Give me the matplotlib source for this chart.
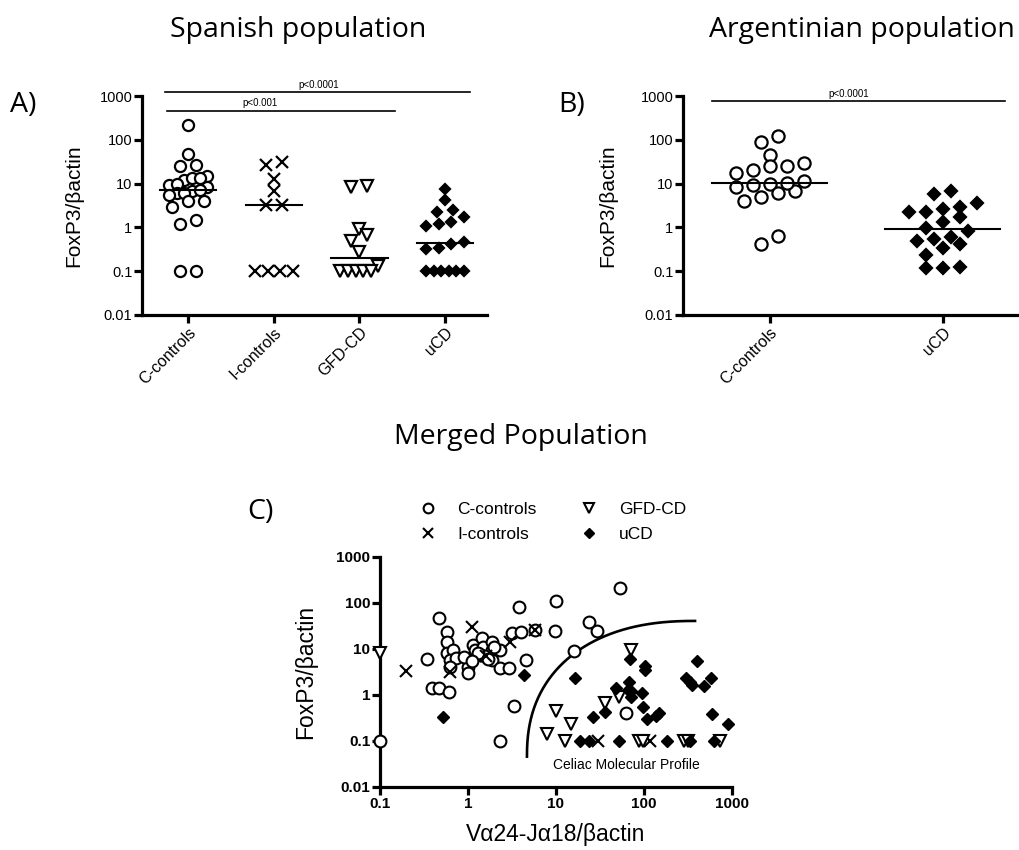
import numpy as np
import matplotlib
matplotlib.use('Agg')
import matplotlib.pyplot as plt
from matplotlib.ticker import FixedLocator, FuncFormatter, NullLocator
from matplotlib.lines import Line2D

plt.rcParams['font.family'] = ['Liberation Sans', 'DejaVu Sans']

# ---------------- data ----------------
groups_a = ['C-controls', 'I-controls', 'GFD-CD', 'uCD']
spain_c = [220, 47, 25, 26, 15, 12, 13.5, 13.5, 9.5, 8.3, 10, 6.1, 6.8, 6.1,
           5.5, 4.1, 4.0, 3.0, 1.5, 1.2, 0.1, 0.1, 7.2]
spain_i = [31, 27, 13, 6.9, 3.2, 3.2, 0.1, 0.1, 0.1, 0.1]
spain_gfd = [8.8, 8.5, 0.93, 0.68, 0.48, 0.27, 0.13, 0.1, 0.1, 0.1, 0.1, 0.1]
spain_ucd = [7.6, 4.3, 2.2, 2.5, 1.7, 1.3, 1.1, 1.2, 0.46, 0.42, 0.33, 0.32,
             0.1, 0.1, 0.1, 0.1, 0.1, 0.1]

groups_b = ['C-controls', 'uCD']
arg_c = [9.5, 44, 20.5, 6.9, 25, 11.4, 5, 91, 25, 10, 4, 0.42, 120, 30, 10.2,
         6.1, 0.62, 17.6, 8.3]
arg_ucd = [5.9, 6.7, 3.0, 3.6, 2.3, 2.2, 2.6, 1.7, 1.3, 0.84, 0.96, 0.54, 0.41,
           0.5, 0.59, 0.33, 0.24, 0.126, 0.116, 0.116]

# merged: (Va24-Ja18/bactin, FoxP3/bactin)
merged_c_x = [0.1, 0.47, 0.58, 0.57, 0.57, 0.68, 0.34, 0.62, 0.73, 0.62, 1.0, 1.0,
              0.89, 1.15, 1.2, 1.43, 1.5, 1.85, 1.85, 1.85, 1.4, 1.55, 1.3, 2.3,
              2.3, 2.9, 3.2, 3.8, 4.0, 4.6, 3.3, 2.3, 0.39, 0.47, 0.61, 5.8, 10,
              9.8, 53, 23.5, 29, 16, 63, 1.7, 2.0, 1.1]
merged_c_y = [0.1, 47, 24, 14.4, 8, 9.5, 6, 5.8, 6.3, 4, 4, 2.96, 6.8, 12, 9.5,
              17, 11.2, 14.4, 9.5, 5.8, 7.5, 7, 8, 9.5, 3.8, 3.8, 22, 81, 23,
              5.8, 0.58, 0.1, 1.44, 1.44, 1.18, 26, 112, 25, 209, 39, 25, 9.2,
              0.4, 6, 11, 5.5]
merged_i_x = [0.2, 1.1, 0.62, 5.8, 3.0, 30, 117, 1.6]
merged_i_y = [3.4, 30, 3.2, 26, 14, 0.1, 0.1, 7]
merged_gfd_x = [0.1, 7.8, 10, 15, 12.6, 72, 52, 36, 87, 98, 282, 318, 730]
merged_gfd_y = [8.3, 0.14, 0.45, 0.24, 0.1, 9.5, 0.92, 0.66, 0.1, 0.1, 0.1, 0.1, 0.1]
merged_ucd_x = [0.52, 4.3, 16.4, 18.7, 23.7, 26, 36, 52, 48, 69, 68, 65, 72, 72,
                94, 103, 103, 98, 107, 138, 149, 182, 330, 405, 302, 333, 347,
                575, 480, 590, 890, 617]
merged_ucd_y = [0.34, 2.7, 2.3, 0.1, 0.1, 0.34, 0.43, 0.1, 1.4, 6, 1.9, 1.3, 1.2,
                0.92, 1.09, 4.3, 3.5, 0.56, 0.3, 0.35, 0.4, 0.1, 0.1, 5.5, 2.3,
                1.95, 1.65, 2.4, 1.57, 0.39, 0.23, 0.1]

# ---------------- figure ----------------
W, H = 1020, 850
fig = plt.figure(figsize=(W / 100, H / 100), dpi=100)

def fbox(left, top, right, bottom):
    return [left / W, 1 - bottom / H, (right - left) / W, (bottom - top) / H]

ax_a = fig.add_axes(fbox(142, 96, 487, 315))
ax_b = fig.add_axes(fbox(683, 96, 1017, 315))
ax_c = fig.add_axes(fbox(380, 557, 732, 787))

decades = [0.01, 0.1, 1, 10, 100, 1000]
fmt = FuncFormatter(lambda v, p: '%g' % v)

def style(ax):
    for s in ['top', 'right']:
        ax.spines[s].set_visible(False)
    for s in ['left', 'bottom']:
        ax.spines[s].set_linewidth(2.3)
    ax.set_yscale('log')
    ax.set_ylim(0.01, 1000)
    ax.yaxis.set_major_locator(FixedLocator(decades))
    ax.yaxis.set_minor_locator(NullLocator())
    ax.yaxis.set_major_formatter(fmt)
    ax.tick_params(axis='both', which='major', direction='out', length=6,
                   width=2.3, labelsize=10.5, pad=1)

def swarm(ax, values, step, gap, maxhalf):
    # GraphPad-like column scatter: points close in y share a row
    vals = np.asarray(values, float)
    ys = ax.transData.transform(np.column_stack([np.zeros(len(vals)), vals]))[:, 1]
    px_per_unit = ax.transData.transform((1, 1))[0] - ax.transData.transform((0, 1))[0]
    rows = []
    for i in np.argsort(vals, kind='stable'):
        if rows and ys[i] - ys[rows[-1][0]] < gap:
            rows[-1].append(i)
        else:
            rows.append([i])
    offs = np.zeros(len(vals))
    for row in rows:
        n = len(row)
        if n == 1:
            continue
        sp = min(step, 2 * maxhalf / (n - 1))
        for j, i in enumerate(row):
            offs[i] = (j - (n - 1) / 2) * sp
    return offs / px_per_unit

marker_kw = {
    'C-controls': dict(marker='o', mfc='white', mec='black'),
    'I-controls': dict(marker='x', color='black'),
    'GFD-CD': dict(marker='v', mfc='white', mec='black'),
    'uCD': dict(marker='D', mfc='black', mec='black'),
}
msize = {'C-controls': 8, 'I-controls': 8, 'GFD-CD': 8, 'uCD': 5.5}

def column_plot(ax, groups, series, xlim, step, gap, maxhalf, ms_scale=1.0):
    ax.set_xlim(*xlim)
    style(ax)
    for i, (name, vals) in enumerate(zip(groups, series)):
        offs = swarm(ax, vals, step, gap, maxhalf)
        ax.plot(i + offs, vals, ls='none', ms=msize[name] * ms_scale, mew=1.6,
                clip_on=False, zorder=3, **marker_kw[name])
        med = np.median(vals)
        ax.plot([i - 0.33, i + 0.33], [med, med], color='black', lw=1.5, zorder=4)
    ax.set_xticks(range(len(groups)))
    ax.set_xticklabels(groups, rotation=45, ha='right', va='top',
                       rotation_mode='anchor', fontsize=11.5)
    ax.set_ylabel('FoxP3/\u03b2actin', fontsize=15)

# ---- panel A
column_plot(ax_a, groups_a, [spain_c, spain_i, spain_gfd, spain_ucd],
            (-0.54, 3.49), step=16, gap=9, maxhalf=19)
ax_a.plot([-0.27, 3.29], [1260, 1260], color='black', lw=1.2, clip_on=False)
ax_a.plot([-0.25, 2.42], [465, 465], color='black', lw=1.2, clip_on=False)
ax_a.text(1.53, 1400, 'p<0.0001', fontsize=7, ha='center', va='bottom')
ax_a.text(0.84, 520, 'p<0.001', fontsize=7, ha='center', va='bottom')
ax_a.yaxis.set_label_coords(-0.171, 0.5)

# ---- panel B
column_plot(ax_b, groups_b, [arg_c, arg_ucd], (-0.5, 1.43), step=17, gap=12,
            maxhalf=52, ms_scale=1.1)
ax_b.plot([-0.33, 1.36], [760, 760], color='black', lw=1.2, clip_on=False)
ax_b.text(0.46, 860, 'p<0.0001', fontsize=7, ha='center', va='bottom')
ax_b.yaxis.set_label_coords(-0.198, 0.5)

# ---- panel C
ax_c.set_xscale('log')
ax_c.set_xlim(0.1, 1000)
style(ax_c)
ax_c.xaxis.set_major_locator(FixedLocator([0.1, 1, 10, 100, 1000]))
ax_c.xaxis.set_minor_locator(NullLocator())
ax_c.xaxis.set_major_formatter(fmt)
for lab in ax_c.get_yticklabels() + ax_c.get_xticklabels():
    lab.set_fontweight('bold')
    lab.set_fontsize(11)

ax_c.plot(merged_c_x, merged_c_y, ls='none', ms=8.5, mew=1.5, clip_on=False,
          zorder=3, **marker_kw['C-controls'])
ax_c.plot(merged_i_x, merged_i_y, ls='none', ms=8.5, mew=1.5, clip_on=False,
          zorder=3, **marker_kw['I-controls'])
ax_c.plot(merged_gfd_x, merged_gfd_y, ls='none', ms=8.5, mew=1.5, clip_on=False,
          zorder=3, **marker_kw['GFD-CD'])
ax_c.plot(merged_ucd_x, merged_ucd_y, ls='none', ms=6, mew=1, clip_on=False,
          zorder=3, **marker_kw['uCD'])

# celiac profile boundary: quarter super-ellipse in log-log space
t = np.linspace(0, np.pi / 2, 200)
cx, cy, a, b, n = 2.58, -1.34, 1.91, 2.95, 2.3
lx = cx - a * np.cos(t) ** (2 / n)
ly = cy + b * np.sin(t) ** (2 / n)
ax_c.plot(10 ** lx, 10 ** ly, color='black', lw=1.9, zorder=2)
ax_c.text(63, 0.03, 'Celiac Molecular Profile', fontsize=10, ha='center', va='center')

ax_c.set_ylabel('FoxP3/\u03b2actin', fontsize=16.5)
ax_c.yaxis.set_label_coords(-0.18, 0.5)
ax_c.set_xlabel('V\u03b124-J\u03b118/\u03b2actin', fontsize=16.5, labelpad=9)

handles = [Line2D([], [], ls='none', ms=7, mew=1.5, **marker_kw[g]) for g in groups_a]
handles[3] = Line2D([], [], ls='none', ms=5, **marker_kw['uCD'])
fig.legend(handles, groups_a, ncol=2, frameon=False, fontsize=12.5,
           loc='upper left', bbox_to_anchor=(412 / W, 1 - 495 / H),
           handletextpad=1.2, columnspacing=2.55, labelspacing=0.55,
           handlelength=1.0, borderaxespad=0)

# ---- titles and panel letters
title_font = ['Open Sans', 'DejaVu Sans']
fig.text(298 / W, 1 - 30 / H, 'Spanish population', fontsize=20.5,
         family=title_font, ha='center', va='center')
fig.text(862 / W, 1 - 30 / H, 'Argentinian population', fontsize=20.5,
         family=title_font, ha='center', va='center')
fig.text(521 / W, 1 - 437 / H, 'Merged Population', fontsize=20.5,
         family=title_font, ha='center', va='center')
fig.text(10 / W, 1 - 105 / H, 'A)', fontsize=20.5, family=title_font, va='center')
fig.text(558 / W, 1 - 105 / H, 'B)', fontsize=20.5, family=title_font, va='center')
fig.text(247 / W, 1 - 512 / H, 'C)', fontsize=20.5, family=title_font, va='center')

fig.savefig('out.png', dpi=100)
